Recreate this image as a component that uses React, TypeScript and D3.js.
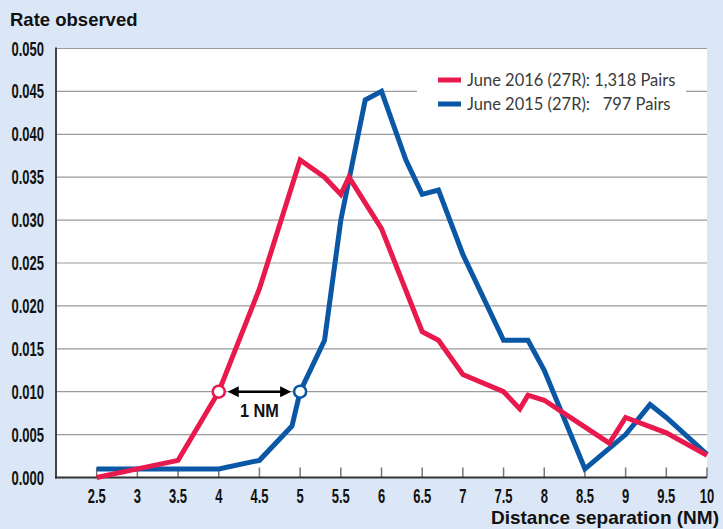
import React, { useEffect } from 'react';
import * as d3 from 'd3';

// June 2016 (27R) separation rates
const dist2016 = [2.5, 3, 3.5, 4, 4.5, 5, 5.3, 5.5, 5.6, 6, 6.5, 6.7, 7, 7.5, 7.7, 7.8, 8, 8.8, 9, 9.5, 10];
const rate2016 = [0.0, 0.001, 0.002, 0.01, 0.022, 0.037, 0.035, 0.033, 0.035, 0.029, 0.017, 0.016, 0.012, 0.010, 0.008, 0.0096, 0.009, 0.004, 0.007, 0.0052, 0.0026];

// June 2015 (27R) separation rates
const dist2015 = [2.5, 3, 3.5, 4, 4.5, 4.9, 5, 5.3, 5.5, 5.8, 6, 6.3, 6.5, 6.7, 7, 7.5, 7.8, 8, 8.5, 9, 9.3, 9.5, 10];
const rate2015 = [0.001, 0.001, 0.001, 0.001, 0.002, 0.006, 0.01, 0.016, 0.030, 0.044, 0.045, 0.037, 0.033, 0.0335, 0.026, 0.016, 0.016, 0.0125, 0.001, 0.005, 0.0085, 0.007, 0.0027];

const xTicks = [2.5, 3, 3.5, 4, 4.5, 5, 5.5, 6, 6.5, 7, 7.5, 8, 8.5, 9, 9.5, 10];
const yTicks = [0, 0.005, 0.01, 0.015, 0.02, 0.025, 0.03, 0.035, 0.04, 0.045, 0.05];

const legendLabels = ['June 2016 (27R): 1,318 Pairs', 'June 2015 (27R):   797 Pairs'];
const markerDist = [4, 5];
const markerRate = 0.01;

const RED = '#e8194d';
const BLUE = '#0a57a6';
const BG = '#dbe7f6';

const W = 723;
const H = 529;

export default function App() {
  useEffect(() => {
    document.body.style.margin = '0';
  }, []);

  const x = d3.scaleLinear().domain([2, 10]).range([56, 707]);
  const y = d3.scaleLinear().domain([0, 0.05]).range([477.5, 48.5]);

  const line = d3.line<[number, number]>()
    .x(d => x(d[0]))
    .y(d => y(d[1]));

  const red = dist2016.map((d, i) => [d, rate2016[i]] as [number, number]);
  const blue = dist2015.map((d, i) => [d, rate2015[i]] as [number, number]);

  const condensed = (tx: number, ty: number, s = 0.65) => `translate(${tx},${ty}) scale(${s},1)`;
  const boldFont = '"Liberation Sans", Arial, sans-serif';
  const tickFont = { fontFamily: boldFont, fontWeight: 700, fontSize: 20, fill: '#111' };

  const arrowY = y(markerRate);
  const ax0 = x(markerDist[0]) + 9;
  const ax1 = x(markerDist[1]) - 9;

  return (
    <svg width={W} height={H} style={{ display: 'block' }}>
      <rect width={W} height={H} fill={BG} />
      <rect x={x(2)} y={y(0.05)} width={x(10) - x(2)} height={y(0) - y(0.05)} fill="#fff" />

      {/* gridlines */}
      {yTicks.filter(t => t > 0).map(t => (
        <line key={t} x1={x(2)} x2={x(10)} y1={y(t)} y2={y(t)} stroke="#9a9a9a" strokeWidth={1.2} />
      ))}

      {/* legend */}
      <rect x={417} y={62} width={269} height={60} fill="#fff" />
      {legendLabels.map((lab, i) => (
        <g key={lab} transform={`translate(438,${80 + i * 24})`}>
          <line x1={0} x2={23} y1={0} y2={0} stroke={i === 0 ? RED : BLUE} strokeWidth={5} />
          <text x={29} y={6} fontFamily="Lato, 'Open Sans', sans-serif" fontSize={16.5} fill="#3a3a3a" style={{ whiteSpace: 'pre' }}>{lab}</text>
        </g>
      ))}

      {/* x ticks */}
      {xTicks.map(t => (
        <line key={t} x1={x(t)} x2={x(t)} y1={y(0)} y2={y(0) - 10} stroke="#777" strokeWidth={1.5} />
      ))}

      {/* axes */}
      <line x1={x(2)} x2={x(2)} y1={y(0.05) - 1} y2={y(0) + 1} stroke="#444" strokeWidth={2} />
      <line x1={x(2) - 1} x2={x(10)} y1={y(0)} y2={y(0)} stroke="#333" strokeWidth={2} />

      {/* series */}
      <path d={line(blue) ?? ''} fill="none" stroke={BLUE} strokeWidth={5} />
      <path d={line(red) ?? ''} fill="none" stroke={RED} strokeWidth={5} />

      {/* 1 NM markers */}
      <circle cx={x(markerDist[0])} cy={arrowY} r={6} fill="#fff" stroke={RED} strokeWidth={2.5} />
      <circle cx={x(markerDist[1])} cy={arrowY} r={6} fill="#fff" stroke={BLUE} strokeWidth={2.5} />
      <line x1={ax0 + 8} x2={ax1 - 8} y1={arrowY} y2={arrowY} stroke="#000" strokeWidth={2.5} />
      <path d={`M${ax0},${arrowY} L${ax0 + 11},${arrowY - 5.5} L${ax0 + 11},${arrowY + 5.5} Z`} fill="#000" />
      <path d={`M${ax1},${arrowY} L${ax1 - 11},${arrowY - 5.5} L${ax1 - 11},${arrowY + 5.5} Z`} fill="#000" />
      <text transform={condensed((ax0 + ax1) / 2, arrowY + 25, 0.88)} textAnchor="middle" {...tickFont} fontSize={18.5}>1 NM</text>

      {/* y tick labels */}
      {yTicks.map(t => (
        <text key={t} transform={condensed(44, y(t) + 7)} textAnchor="end" {...tickFont}>{t.toFixed(3)}</text>
      ))}

      {/* x tick labels */}
      {xTicks.map(t => (
        <text key={t} transform={condensed(x(t), 503)} textAnchor="middle" {...tickFont}>{String(t)}</text>
      ))}

      {/* titles */}
      <text x={10} y={26} fontFamily={boldFont} fontWeight={700} fontSize={18.5} fill="#111">Rate observed</text>
      <text x={719} y={524} textAnchor="end" fontFamily={boldFont} fontWeight={700} fontSize={19} fill="#111">Distance separation (NM)</text>
    </svg>
  );
}
